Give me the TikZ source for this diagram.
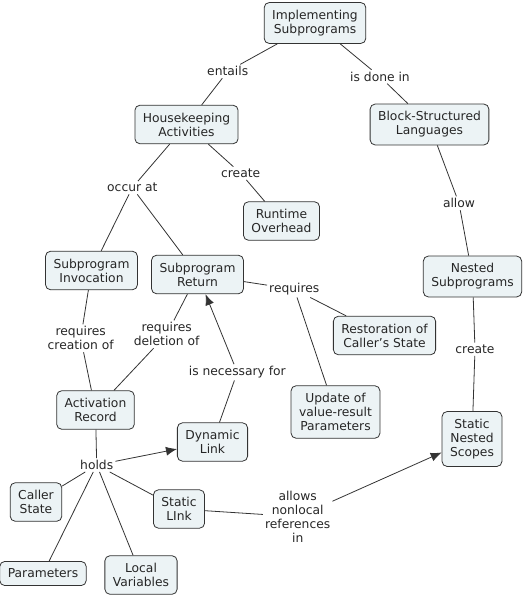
\documentclass[tikz,border=0pt]{standalone}
\usepackage{fontspec}
\setmainfont{DejaVu Sans}
\usepackage{tikz}
\usetikzlibrary{arrows.meta}

\definecolor{conceptfill}{RGB}{236,243,245}

\begin{document}
\begin{tikzpicture}
	[x=1pt,y=-1pt,every node/.style={font=\fontsize{12.3}{14}\selectfont, text=black!85, align=center}]
	\tikzstyle{concept} = [draw=black!80, fill=conceptfill, rounded corners=5pt, inner xsep=8pt, inner ysep=7.5pt, line width=0.8pt];
	\tikzstyle{linkword} = [inner sep=2pt];
	\tikzstyle{edges} = [draw=black!80, line width=0.8pt];
	\tikzstyle{arrowed} = [edges, -{Latex[length=11pt,width=9pt]}];

	\useasboundingbox (0,0) rectangle (530,597);

	% concepts
	\node[concept] (impl) at (315,23) {Implementing\\Subprograms};
	\node[concept] (house) at (186.5,124.5) {Housekeeping\\Activities};
	\node[concept] (block) at (429.5,124.5) {Block-Structured\\Languages};
	\node[concept] (runtime) at (281.5,221) {Runtime\\Overhead};
	\node[concept] (invoc) at (91.5,270.5) {Subprogram\\Invocation};
	\node[concept] (ret) at (197.5,274.5) {Subprogram\\Return};
	\node[concept] (nested) at (472.5,276.5) {Nested\\Subprograms};
	\node[concept] (restore) at (384.5,335.5) {Restoration of\\Caller's State};
	\node[concept] (update) at (335.5,412) {Update of\\value-result\\Parameters};
	\node[concept] (scopes) at (472,439) {Static\\Nested\\Scopes};
	\node[concept] (actrec) at (95.5,410) {Activation\\Record};
	\node[concept] (dynlink) at (212.5,442) {Dynamic\\Link};
	\node[concept] (caller) at (36,502) {Caller\\State};
	\node[concept] (statlink) at (179,509) {Static\\LInk};
	\node[concept] (params) at (43,573.5) {Parameters};
	\node[concept] (localvar) at (141,575) {Local\\Variables};

	% linking words
	\node[linkword] (entails) at (227.7,71.3) {entails};
	\node[linkword] (donein) at (380,76.7) {is done in};
	\node[linkword] (occur) at (132.3,187.7) {occur at};
	\node[linkword] (create1) at (240.7,173.3) {create};
	\node[linkword] (allow) at (459,203.3) {allow};
	\node[linkword] (requires) at (294.3,289.3) {requires};
	\node[linkword] (creation) at (80.7,338.3) {requires\\creation of};
	\node[linkword] (deletion) at (166.7,334.3) {requires\\deletion of};
	\node[linkword] (necessary) at (237.3,372.3) {is necessary for};
	\node[linkword] (create2) at (475,349.3) {create};
	\node[linkword] (holds) at (96.7,465) {holds};
	\node[linkword] (nonlocal) at (297.7,516.7) {allows\\nonlocal\\references\\in};

	\draw[edges] (impl) -- (entails);
	\draw[edges] (entails) -- (house);
	\draw[edges] (impl) -- (donein);
	\draw[edges] (donein) -- (block);
	\draw[edges] (house) -- (occur);
	\draw[edges] (occur) -- (invoc);
	\draw[edges] (occur) -- (ret);
	\draw[edges] (house) -- (create1);
	\draw[edges] (create1) -- (runtime);
	\draw[edges] (block) -- (allow);
	\draw[edges] (allow) -- (nested);
	\draw[edges] (nested) -- (create2);
	\draw[edges] (create2) -- (scopes);
	\draw[edges] (ret) -- (requires);
	\draw[edges] (requires) -- (restore);
	\draw[edges] (requires) -- (update);
	\draw[edges] (invoc) -- (creation);
	\draw[edges] (creation) -- (actrec);
	\draw[edges] (actrec) -- (deletion);
	\draw[edges] (deletion) -- (ret);
	\draw[edges] (dynlink) -- (necessary);
	\draw[arrowed] (necessary) -- (ret);
	\draw[edges] (actrec) -- (holds);
	\draw[arrowed] (holds) -- (dynlink);
	\draw[edges] (holds) -- (caller);
	\draw[edges] (holds) -- (params);
	\draw[edges] (holds) -- (localvar);
	\draw[edges] (holds) -- (statlink);
	\draw[edges] (statlink) -- (nonlocal);
	\draw[arrowed] (nonlocal) -- (scopes);
\end{tikzpicture}
\end{document}
